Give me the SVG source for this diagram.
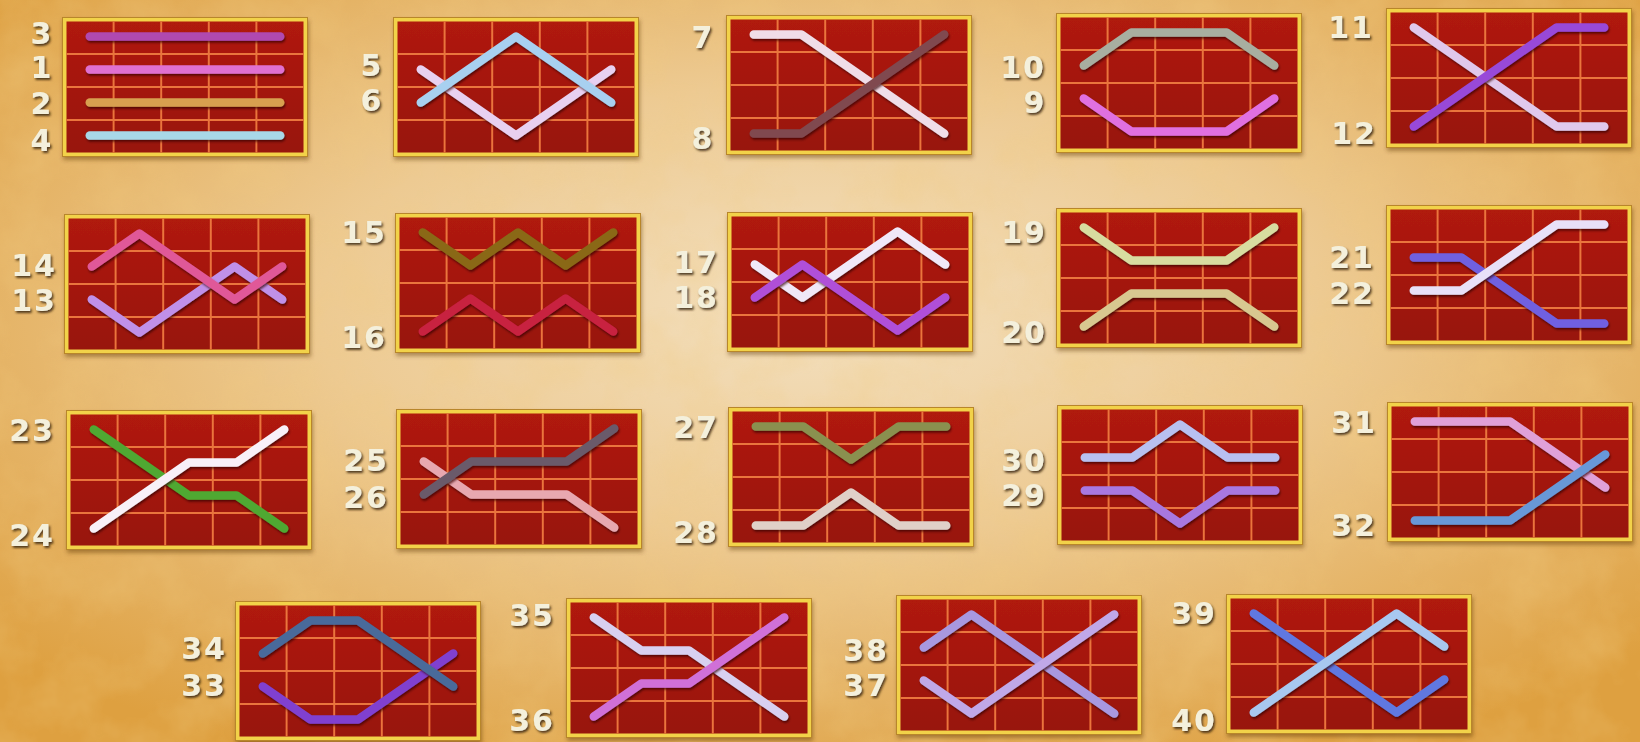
<svg xmlns="http://www.w3.org/2000/svg" xmlns:xlink="http://www.w3.org/1999/xlink" width="1640" height="742" viewBox="0 0 1640 742">
<defs>
<radialGradient id="bg" cx="0.5" cy="0.42" r="0.68">
<stop offset="0" stop-color="#f3e0c0"/>
<stop offset="0.45" stop-color="#edca92"/>
<stop offset="1" stop-color="#dea040"/>
</radialGradient>
<filter id="tex" x="0" y="0" width="100%" height="100%">
<feTurbulence type="fractalNoise" baseFrequency="0.018" numOctaves="4" seed="3"/>
<feColorMatrix type="matrix" values="0 0 0 0 0.88  0 0 0 0 0.6  0 0 0 0 0.22  0 0 0 1.1 -0.4"/>
</filter>
<filter id="bsh" x="-5%" y="-5%" width="110%" height="115%">
<feDropShadow dx="1" dy="3" stdDeviation="2" flood-color="#5a3010" flood-opacity="0.45"/>
</filter>
<filter id="lsh" filterUnits="userSpaceOnUse" x="-30" y="-30" width="310" height="200">
<feDropShadow dx="1" dy="2" stdDeviation="1.2" flood-color="#300000" flood-opacity="0.7"/>
</filter>
<filter id="tsh" x="-20%" y="-20%" width="140%" height="150%">
<feDropShadow dx="1.5" dy="2" stdDeviation="0.8" flood-color="#3a2810" flood-opacity="0.85"/>
</filter>
<linearGradient id="cell" x1="0" y1="0" x2="0" y2="1">
<stop offset="0" stop-color="#b01a0c"/>
<stop offset="1" stop-color="#981208"/>
</linearGradient>
<g id="board">
<rect x="0.5" y="0.5" width="245" height="139" fill="#f2d24a" stroke="#b8862a" stroke-width="1"/>
<rect x="4.5" y="4.5" width="237" height="131" fill="url(#cell)"/>
<g stroke="#ea743e" stroke-width="2">
<line x1="51.6" y1="4.5" x2="51.6" y2="135.5"/>
<line x1="99.2" y1="4.5" x2="99.2" y2="135.5"/>
<line x1="146.8" y1="4.5" x2="146.8" y2="135.5"/>
<line x1="194.4" y1="4.5" x2="194.4" y2="135.5"/>
<line x1="4.5" y1="37" x2="241.5" y2="37"/>
<line x1="4.5" y1="70" x2="241.5" y2="70"/>
<line x1="4.5" y1="103" x2="241.5" y2="103"/>
</g>
</g>
</defs>
<style>
.ln { fill:none; stroke-width:8.5; stroke-linecap:round; stroke-linejoin:round; filter:url(#lsh); }
.lb { font-family:"DejaVu Sans","Liberation Sans",sans-serif; font-weight:bold; font-size:30px; fill:#f4f0dc; text-anchor:middle; letter-spacing:2px; filter:url(#tsh); }
.bd { filter:url(#bsh); }
</style>
<rect width="1640" height="742" fill="url(#bg)"/>
<rect width="1640" height="742" filter="url(#tex)" opacity="0.55"/>

<g id="box-1-4">
<use href="#board" x="62" y="17" class="bd"/>
<g transform="translate(62,17)">
<polyline class="ln" stroke="#b048b0" points="27.8,19.5 218.2,19.5"/>
<polyline class="ln" stroke="#e070d0" points="27.8,52.5 218.2,52.5"/>
<polyline class="ln" stroke="#d8a050" points="27.8,85.5 218.2,85.5"/>
<polyline class="ln" stroke="#a8d8e8" points="27.8,118.5 218.2,118.5"/>
</g>
<text class="lb" x="42" y="44">3</text>
<text class="lb" x="42" y="78">1</text>
<text class="lb" x="42" y="114">2</text>
<text class="lb" x="42" y="151">4</text>
</g>

<g id="box-5-6">
<use href="#board" x="393" y="17" class="bd"/>
<g transform="translate(393,17)">
<polyline class="ln" stroke="#e8d0f0" points="27.8,52.5 75.4,85.5 123,118.5 170.6,85.5 218.2,52.5"/>
<polyline class="ln" stroke="#a8d0f0" points="27.8,85.5 75.4,52.5 123,19.5 170.6,52.5 218.2,85.5"/>
</g>
<text class="lb" x="372" y="76">5</text>
<text class="lb" x="372" y="111">6</text>
</g>

<g id="box-7-8">
<use href="#board" x="726" y="15" class="bd"/>
<g transform="translate(726,15)">
<polyline class="ln" stroke="#f0dde8" points="27.8,19.5 75.4,19.5 123,52.5 170.6,85.5 218.2,118.5"/>
<polyline class="ln" stroke="#804850" points="27.8,118.5 75.4,118.5 123,85.5 170.6,52.5 218.2,19.5"/>
</g>
<text class="lb" x="703" y="48">7</text>
<text class="lb" x="703" y="149">8</text>
</g>

<g id="box-9-10">
<use href="#board" x="1056" y="13" class="bd"/>
<g transform="translate(1056,13)">
<polyline class="ln" stroke="#a8aea0" points="27.8,52.5 75.4,19.5 123,19.5 170.6,19.5 218.2,52.5"/>
<polyline class="ln" stroke="#e070e0" points="27.8,85.5 75.4,118.5 123,118.5 170.6,118.5 218.2,85.5"/>
</g>
<text class="lb" x="1023" y="78">10</text>
<text class="lb" x="1035" y="113">9</text>
</g>

<g id="box-11-12">
<use href="#board" x="1386" y="8" class="bd"/>
<g transform="translate(1386,8)">
<polyline class="ln" stroke="#e0c8ec" points="27.8,19.5 75.4,52.5 123,85.5 170.6,118.5 218.2,118.5"/>
<polyline class="ln" stroke="#9848d8" points="27.8,118.5 75.4,85.5 123,52.5 170.6,19.5 218.2,19.5"/>
</g>
<text class="lb" x="1351" y="38">11</text>
<text class="lb" x="1354" y="144">12</text>
</g>

<g id="box-13-14">
<use href="#board" x="64" y="214" class="bd"/>
<g transform="translate(64,214)">
<polyline class="ln" stroke="#c090e8" points="27.8,85.5 75.4,118.5 123,85.5 170.6,52.5 218.2,85.5"/>
<polyline class="ln" stroke="#e05898" points="27.8,52.5 75.4,19.5 123,52.5 170.6,85.5 218.2,52.5"/>
</g>
<text class="lb" x="34" y="276">14</text>
<text class="lb" x="34" y="311">13</text>
</g>

<g id="box-15-16">
<use href="#board" x="395" y="213" class="bd"/>
<g transform="translate(395,213)">
<polyline class="ln" stroke="#8a6818" points="27.8,19.5 75.4,52.5 123,19.5 170.6,52.5 218.2,19.5"/>
<polyline class="ln" stroke="#c82040" points="27.8,118.5 75.4,85.5 123,118.5 170.6,85.5 218.2,118.5"/>
</g>
<text class="lb" x="364" y="243">15</text>
<text class="lb" x="364" y="348">16</text>
</g>

<g id="box-17-18">
<use href="#board" x="727" y="212" class="bd"/>
<g transform="translate(727,212)">
<polyline class="ln" stroke="#f0e8f8" points="27.8,52.5 75.4,85.5 123,52.5 170.6,19.5 218.2,52.5"/>
<polyline class="ln" stroke="#b050d8" points="27.8,85.5 75.4,52.5 123,85.5 170.6,118.5 218.2,85.5"/>
</g>
<text class="lb" x="696" y="273">17</text>
<text class="lb" x="696" y="308">18</text>
</g>

<g id="box-19-20">
<use href="#board" x="1056" y="208" class="bd"/>
<g transform="translate(1056,208)">
<polyline class="ln" stroke="#d8dca0" points="27.8,19.5 75.4,52.5 123,52.5 170.6,52.5 218.2,19.5"/>
<polyline class="ln" stroke="#d8c890" points="27.8,118.5 75.4,85.5 123,85.5 170.6,85.5 218.2,118.5"/>
</g>
<text class="lb" x="1024" y="243">19</text>
<text class="lb" x="1024" y="343">20</text>
</g>

<g id="box-21-22">
<use href="#board" x="1386" y="205" class="bd"/>
<g transform="translate(1386,205)">
<polyline class="ln" stroke="#7060e0" points="27.8,52.5 75.4,52.5 123,85.5 170.6,118.5 218.2,118.5"/>
<polyline class="ln" stroke="#e8e0f8" points="27.8,85.5 75.4,85.5 123,52.5 170.6,19.5 218.2,19.5"/>
</g>
<text class="lb" x="1352" y="268">21</text>
<text class="lb" x="1352" y="304">22</text>
</g>

<g id="box-23-24">
<use href="#board" x="66" y="410" class="bd"/>
<g transform="translate(66,410)">
<polyline class="ln" stroke="#50a830" points="27.8,19.5 75.4,52.5 123,85.5 170.6,85.5 218.2,118.5"/>
<polyline class="ln" stroke="#f8f0f8" points="27.8,118.5 75.4,85.5 123,52.5 170.6,52.5 218.2,19.5"/>
</g>
<text class="lb" x="32" y="441">23</text>
<text class="lb" x="32" y="546">24</text>
</g>

<g id="box-25-26">
<use href="#board" x="396" y="409" class="bd"/>
<g transform="translate(396,409)">
<polyline class="ln" stroke="#e8a8b0" points="27.8,52.5 75.4,85.5 123,85.5 170.6,85.5 218.2,118.5"/>
<polyline class="ln" stroke="#6a5a6a" points="27.8,85.5 75.4,52.5 123,52.5 170.6,52.5 218.2,19.5"/>
</g>
<text class="lb" x="366" y="471">25</text>
<text class="lb" x="366" y="508">26</text>
</g>

<g id="box-27-28">
<use href="#board" x="728" y="407" class="bd"/>
<g transform="translate(728,407)">
<polyline class="ln" stroke="#8a9050" points="27.8,19.5 75.4,19.5 123,52.5 170.6,19.5 218.2,19.5"/>
<polyline class="ln" stroke="#e0d0c8" points="27.8,118.5 75.4,118.5 123,85.5 170.6,118.5 218.2,118.5"/>
</g>
<text class="lb" x="696" y="438">27</text>
<text class="lb" x="696" y="543">28</text>
</g>

<g id="box-29-30">
<use href="#board" x="1057" y="405" class="bd"/>
<g transform="translate(1057,405)">
<polyline class="ln" stroke="#b8c0f0" points="27.8,52.5 75.4,52.5 123,19.5 170.6,52.5 218.2,52.5"/>
<polyline class="ln" stroke="#a878e0" points="27.8,85.5 75.4,85.5 123,118.5 170.6,85.5 218.2,85.5"/>
</g>
<text class="lb" x="1024" y="471">30</text>
<text class="lb" x="1024" y="506">29</text>
</g>

<g id="box-31-32">
<use href="#board" x="1387" y="402" class="bd"/>
<g transform="translate(1387,402)">
<polyline class="ln" stroke="#e0a0d8" points="27.8,19.5 75.4,19.5 123,19.5 170.6,52.5 218.2,85.5"/>
<polyline class="ln" stroke="#6898d8" points="27.8,118.5 75.4,118.5 123,118.5 170.6,85.5 218.2,52.5"/>
</g>
<text class="lb" x="1354" y="433">31</text>
<text class="lb" x="1354" y="536">32</text>
</g>

<g id="box-33-34">
<use href="#board" x="235" y="601" class="bd"/>
<g transform="translate(235,601)">
<polyline class="ln" stroke="#8040d0" points="27.8,85.5 75.4,118.5 123,118.5 170.6,85.5 218.2,52.5"/>
<polyline class="ln" stroke="#4a6a9a" points="27.8,52.5 75.4,19.5 123,19.5 170.6,52.5 218.2,85.5"/>
</g>
<text class="lb" x="204" y="659">34</text>
<text class="lb" x="204" y="696">33</text>
</g>

<g id="box-35-36">
<use href="#board" x="566" y="598" class="bd"/>
<g transform="translate(566,598)">
<polyline class="ln" stroke="#d8d0f0" points="27.8,19.5 75.4,52.5 123,52.5 170.6,85.5 218.2,118.5"/>
<polyline class="ln" stroke="#d070d8" points="27.8,118.5 75.4,85.5 123,85.5 170.6,52.5 218.2,19.5"/>
</g>
<text class="lb" x="532" y="626">35</text>
<text class="lb" x="532" y="731">36</text>
</g>

<g id="box-37-38">
<use href="#board" x="896" y="595" class="bd"/>
<g transform="translate(896,595)">
<polyline class="ln" stroke="#a898e0" points="27.8,52.5 75.4,19.5 123,52.5 170.6,85.5 218.2,118.5"/>
<polyline class="ln" stroke="#c0a8e8" points="27.8,85.5 75.4,118.5 123,85.5 170.6,52.5 218.2,19.5"/>
</g>
<text class="lb" x="866" y="661">38</text>
<text class="lb" x="866" y="696">37</text>
</g>

<g id="box-39-40">
<use href="#board" x="1226" y="594" class="bd"/>
<g transform="translate(1226,594)">
<polyline class="ln" stroke="#6078e0" points="27.8,19.5 75.4,52.5 123,85.5 170.6,118.5 218.2,85.5"/>
<polyline class="ln" stroke="#a8c8f0" points="27.8,118.5 75.4,85.5 123,52.5 170.6,19.5 218.2,52.5"/>
</g>
<text class="lb" x="1194" y="624">39</text>
<text class="lb" x="1194" y="731">40</text>
</g>
</svg>
